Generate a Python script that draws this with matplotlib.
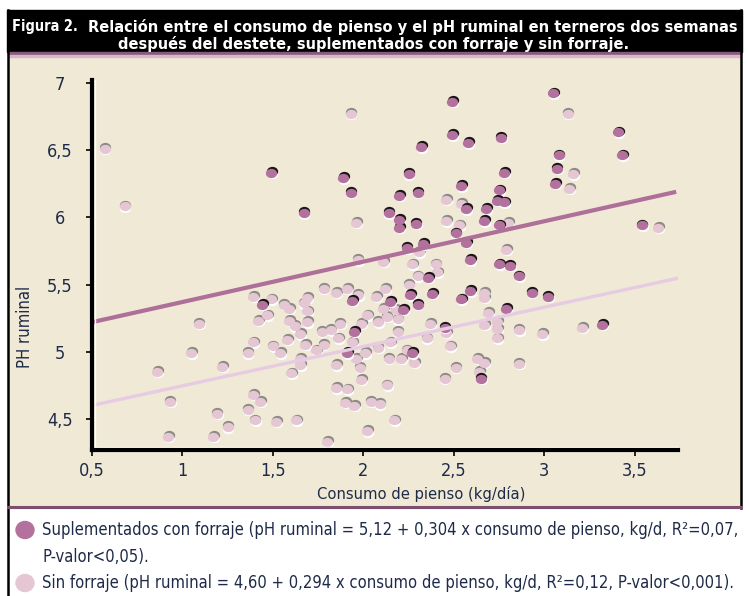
import numpy as np
import matplotlib
matplotlib.use('Agg')
from matplotlib import pyplot as plt
from matplotlib import transforms
from matplotlib.path import Path
from matplotlib.patches import Rectangle, Ellipse
from matplotlib.lines import Line2D

# suplementados con forraje (puntos oscuros)
forraje_x = [2.49, 2.49, 2.58, 2.32, 1.49, 2.25, 1.89, 2.54, 1.93, 2.20,
             2.30, 2.57, 2.68, 1.67, 2.14, 2.20, 2.20, 2.29, 2.67, 2.51,
             2.57, 2.33, 2.24, 2.59, 3.05, 2.76, 3.41, 3.08, 3.43, 3.07,
             2.78, 3.06, 2.75, 2.74, 2.78, 2.75, 3.54, 2.75, 2.81, 2.86,
             2.93, 3.02, 2.79, 3.32, 2.65, 2.36, 2.59, 2.38, 2.54, 2.26,
             2.22, 2.30, 2.45, 2.27, 1.44, 1.94, 2.15, 1.95, 1.91]
forraje_y = [6.86, 6.61, 6.55, 6.52, 6.33, 6.32, 6.29, 6.23, 6.18, 6.16,
             6.18, 6.06, 6.06, 6.03, 6.03, 5.98, 5.92, 5.95, 5.97, 5.88,
             5.81, 5.80, 5.77, 5.68, 6.92, 6.59, 6.63, 6.46, 6.46, 6.36,
             6.33, 6.25, 6.20, 6.12, 6.11, 5.94, 5.94, 5.65, 5.64, 5.56,
             5.44, 5.41, 5.32, 5.20, 4.80, 5.55, 5.45, 5.43, 5.39, 5.42,
             5.31, 5.35, 5.18, 4.99, 5.35, 5.38, 5.37, 5.15, 4.99]

# sin forraje (puntos claros)
sin_x = [0.57, 0.68, 1.93, 3.13, 3.16, 3.14, 2.46, 2.54, 1.96, 2.46,
         2.53, 2.80, 3.63, 2.31, 2.79, 2.11, 2.27, 2.40, 1.97, 1.78,
         1.85, 1.91, 1.97, 2.12, 1.39, 1.49, 1.69, 2.41, 2.30, 2.25,
         2.67, 2.67, 2.69, 2.74, 2.67, 2.74, 2.86, 2.99, 3.21, 2.74,
         2.67, 2.86, 2.37, 2.46, 2.35, 2.48, 2.24, 2.28, 2.21, 2.63,
         2.51, 2.64, 2.45, 2.07, 2.11, 2.18, 1.56, 1.59, 1.67, 1.69,
         1.42, 1.47, 1.59, 1.62, 1.69, 1.65, 1.77, 1.82, 1.87, 2.02,
         1.99, 2.08, 2.13, 2.19, 2.19, 1.86, 1.39, 1.58, 1.50, 1.68,
         1.74, 1.78, 1.94, 2.01, 2.08, 2.15, 1.36, 1.54, 1.65, 1.65,
         1.85, 1.96, 2.14, 1.60, 1.98, 1.99, 1.85, 1.91, 2.13, 1.39,
         1.43, 1.36, 1.90, 1.95, 2.04, 2.09, 1.40, 1.52, 1.63, 2.17,
         2.02, 1.80, 1.09, 1.05, 1.22, 0.86, 0.93, 1.19, 1.25, 0.92,
         1.17]
sin_y = [6.51, 6.08, 6.77, 6.77, 6.32, 6.21, 6.13, 6.10, 5.96, 5.97,
         5.94, 5.96, 5.92, 5.74, 5.76, 5.67, 5.65, 5.65, 5.68, 5.47,
         5.44, 5.47, 5.42, 5.47, 5.41, 5.39, 5.40, 5.59, 5.56, 5.50,
         5.44, 5.40, 5.29, 5.22, 5.20, 5.17, 5.16, 5.13, 5.18, 5.10,
         4.92, 4.91, 5.21, 5.14, 5.10, 5.04, 5.01, 4.92, 4.95, 4.95,
         4.88, 4.85, 4.80, 5.41, 5.32, 5.31, 5.35, 5.32, 5.36, 5.30,
         5.23, 5.27, 5.23, 5.19, 5.22, 5.13, 5.15, 5.16, 5.21, 5.27,
         5.21, 5.22, 5.26, 5.24, 5.15, 5.10, 5.07, 5.09, 5.04, 5.05,
         5.01, 5.05, 5.07, 4.99, 5.03, 5.07, 4.99, 4.99, 4.95, 4.90,
         4.90, 4.95, 4.95, 4.84, 4.88, 4.79, 4.73, 4.72, 4.75, 4.68,
         4.63, 4.57, 4.62, 4.60, 4.63, 4.61, 4.49, 4.48, 4.49, 4.49,
         4.41, 4.33, 5.21, 4.99, 4.89, 4.85, 4.63, 4.54, 4.44, 4.37,
         4.37]

# rectas tal como estan dibujadas: ordenada, pendiente, x inicio, x fin
recta_forraje = [5.07, 0.300, 0.5, 3.73]
recta_sin = [4.455, 0.292, 0.5, 3.75]

xticks = [0.5, 1, 1.5, 2, 2.5, 3, 3.5]
xtick_labels = ['0,5', '1', '1,5', '2', '2,5', '3', '3,5']
yticks = [4.5, 5, 5.5, 6, 6.5, 7]
ytick_labels = ['4,5', '5', '5,5', '6', '6,5', '7']

titulo_1a = 'Figura 2.'
titulo_1b = 'Relación entre el consumo de pienso y el pH ruminal en terneros dos semanas'
titulo_2 = 'después del destete, suplementados con forraje y sin forraje.'
leyenda_1 = 'Suplementados con forraje (pH ruminal = 5,12 + 0,304 x consumo de pienso, kg/d, R²=0,07,'
leyenda_1b = 'P-valor<0,05).'
leyenda_2 = 'Sin forraje (pH ruminal = 4,60 + 0,294 x consumo de pienso, kg/d, R²=0,12, P-valor<0,001).'

BEIGE = '#efe9d5'
OSCURO = '#b3729d'
CLARO = '#e4c7d3'
AZUL = '#1e2a48'

W, H = 749, 596
def fx(px):
    return px / W
def fy(py):
    return 1 - py / H

plt.rcParams['font.family'] = ['DejaVu Sans']
plt.rcParams['font.stretch'] = 'condensed'
fig = plt.figure(figsize=(W / 100, H / 100), dpi=100, facecolor='white')
rend = fig.canvas.get_renderer()

def ajustar(t, ancho):
    # fija el tamano de letra para que el texto ocupe el ancho medido
    w = t.get_window_extent(rend).width
    t.set_fontsize(t.get_fontsize() * ancho / w)
    return t

# fondo, barra de titulo y bordes
fig.patches.append(Rectangle((fx(8), fy(508)), fx(741) - fx(8), (508 - 55) / H,
                             transform=fig.transFigure, color=BEIGE, zorder=-2))
fig.patches.append(Rectangle((fx(7), fy(52)), fx(742) - fx(7), 42 / H,
                             transform=fig.transFigure, color='black', zorder=-1))
fig.patches.append(Rectangle((fx(8), fy(54.5)), fx(741) - fx(8), 2.5 / H,
                             transform=fig.transFigure, color='#8a5a7c', zorder=-1))
fig.patches.append(Rectangle((fx(8), fy(57)), fx(741) - fx(8), 2.5 / H,
                             transform=fig.transFigure, color='#d6b6c8', zorder=-1))
fig.add_artist(Line2D([fx(8), fx(8)], [fy(10), fy(596)], color='black', lw=1.8,
                      transform=fig.transFigure))
fig.add_artist(Line2D([fx(741), fx(741)], [fy(10), fy(508)], color='black', lw=1.8,
                      transform=fig.transFigure))
fig.add_artist(Line2D([fx(8), fx(741)], [fy(506.5), fy(506.5)], color='#7d4f6e', lw=2.2,
                      transform=fig.transFigure))

tt = ajustar(fig.text(fx(88), fy(27), titulo_1b, color='white', fontsize=13,
                      fontweight='bold', va='center', ha='left'), 647)
fa = fig.text(fx(12), fy(27), titulo_1a, color='white', fontsize=tt.get_fontsize(),
              fontweight='bold', va='center', ha='left')
ajustar(fa, 66)
fig.text(fx(374), fy(44), titulo_2, color='white', fontsize=tt.get_fontsize(),
         fontweight='bold', va='center', ha='center')

ax = fig.add_axes([fx(92), fy(450), fx(678) - fx(92), (450 - 80) / H])
ax.set_facecolor('none')
ax.set_zorder(2)
ax.set_xlim(0.5, 3.74)
ax.set_ylim(4.27, 7.02)

circ = Path.unit_circle()
elipse = Path(circ.vertices * np.array([1.0, 0.82]), circ.codes)
S = 66

def cuentas(x, y, cara, sombra, z):
    t_lo = transforms.offset_copy(ax.transData, fig=fig, x=0.8, y=-1.4, units='dots')
    t_hi = transforms.offset_copy(ax.transData, fig=fig, x=0.6, y=1.8, units='dots')
    ax.scatter(x, y, s=S, marker=elipse, c='white', lw=0, transform=t_lo, zorder=z)
    ax.scatter(x, y, s=S, marker=elipse, c=sombra, lw=0, transform=t_hi, zorder=z + 0.1)
    ax.scatter(x, y, s=S, marker=elipse, c=cara, lw=0, zorder=z + 0.2)

cuentas(sin_x, sin_y, CLARO, '#8e8a86', 2)
cuentas(forraje_x, forraje_y, OSCURO, '#1a1418', 3)

for recta, color, ancho in [(recta_forraje, '#ae6f98', 3.0), (recta_sin, '#e6cbe2', 2.4)]:
    xs = np.array(recta[2:])
    ax.plot(xs, recta[0] + recta[1] * xs, color=color, lw=ancho,
            solid_capstyle='butt', zorder=5)

for lado in ['top', 'right']:
    ax.spines[lado].set_visible(False)
for lado in ['left', 'bottom']:
    ax.spines[lado].set_linewidth(3)
    ax.spines[lado].set_color('black')
    ax.spines[lado].set_zorder(6)
t_v = transforms.offset_copy(ax.transAxes, fig=fig, x=2.6, y=0, units='dots')
ax.plot([0, 0], [0.004, 1], color='white', lw=1, transform=t_v, clip_on=False, zorder=6)
t_h = transforms.offset_copy(ax.transAxes, fig=fig, x=0, y=2.6, units='dots')
ax.plot([0.004, 1], [0, 0], color='white', lw=1, transform=t_h, clip_on=False, zorder=6)

ax.set_xticks(xticks, xtick_labels)
ax.set_yticks(yticks, ytick_labels)
ax.tick_params(axis='x', length=4, width=1.2, pad=5, labelsize=13, labelcolor=AZUL)
ax.tick_params(axis='y', length=4, width=1.2, pad=19, labelsize=13, labelcolor=AZUL)
for lab in ax.get_yticklabels():
    lab.set_horizontalalignment('center')

fig.text(fx(25), fy(327), 'PH ruminal', rotation=90, color=AZUL, fontsize=12,
         ha='center', va='center')
ajustar(fig.text(fx(421), fy(494), 'Consumo de pienso (kg/día)', color=AZUL, fontsize=13,
                 ha='center', va='center'), 207)

# leyenda
fig.patches.append(Ellipse((fx(25), fy(530)), 18 / W, 17 / H, transform=fig.transFigure,
                           color=OSCURO, zorder=3))
fig.patches.append(Ellipse((fx(25), fy(583)), 18 / W, 17 / H, transform=fig.transFigure,
                           color=CLARO, zorder=3))
t1 = ajustar(fig.text(fx(42), fy(530), leyenda_1, color=AZUL, fontsize=13, ha='left',
                      va='center'), 692)
fig.text(fx(42), fy(557), leyenda_1b, color=AZUL, fontsize=t1.get_fontsize(), ha='left',
         va='center')
fig.text(fx(42), fy(583), leyenda_2, color=AZUL, fontsize=t1.get_fontsize(), ha='left',
         va='center')

fig.savefig('out.png', dpi=100, facecolor='white')
